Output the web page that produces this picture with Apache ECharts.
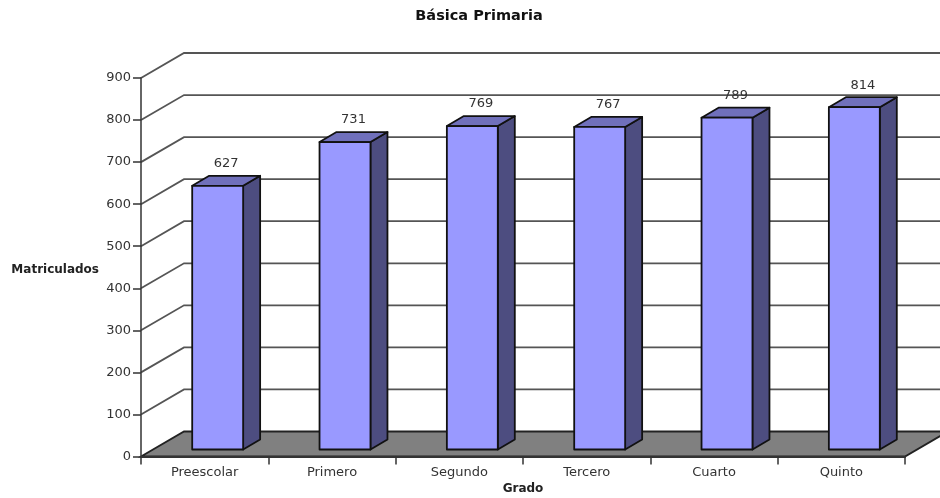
<!DOCTYPE html>
<html><head><meta charset="utf-8">
<style>html,body{margin:0;padding:0;background:#fff}#c{width:940px;height:498px}</style>
<script src="https://cdn.jsdelivr.net/npm/echarts@6/dist/echarts.min.js"></script>
</head><body><div id="c"></div>
<script>
const categories = ['Preescolar','Primero','Segundo','Tercero','Cuarto','Quinto'];
const matriculados = [627,731,769,767,789,814];
const gridTicks = [100,200,300,400,500,600,700,800,900];
const FONT = '"DejaVu Sans", Verdana, sans-serif';
const WALL = [43,-25];           // full 3-D depth of the floor
const BAR_OFF = [13,-7];         // bar front face offset from the axis plane
const BAR_DEPTH = [17,-10];      // bar depth

const chart = echarts.init(document.getElementById('c'), null, {renderer:'canvas'});
function wallItem(params, api){
  const v = api.value(0);
  const a = api.coord([0,v]), b = api.coord([categories.length-1,v]);
  const half = api.size([1,0])[0]/2;
  const x0 = a[0]-half, x1 = b[0]+half, y = a[1];
  return {type:'polyline',shape:{points:[[x0,y],[x0+WALL[0],y+WALL[1]],[x1+WALL[0],y+WALL[1]]]},
    style:{stroke:'#555',lineWidth:1.8,fill:null}};
}
function floorItem(params, api){
  const a = api.coord([0,0]), b = api.coord([categories.length-1,0]);
  const half = api.size([1,0])[0]/2;
  const x0=a[0]-half, x1=b[0]+half, y=a[1];
  return {type:'polygon',shape:{points:[[x0,y],[x0+WALL[0],y+WALL[1]],[x1+WALL[0],y+WALL[1]],[x1,y]]},
    style:{fill:'#808080',stroke:'#222',lineWidth:1.8}};
}
function barItem(params, api){
  const i = api.value(0), v = api.value(1);
  const top = api.coord([i,v]), base = api.coord([i,0]);
  const w = api.size([1,0])[0]*0.4;
  const xl = top[0]-w/2+BAR_OFF[0], xr = xl+w;
  const yt = top[1]+BAR_OFF[1], yb = base[1]+BAR_OFF[1];
  const dx = BAR_DEPTH[0], dy = BAR_DEPTH[1];
  const st = {stroke:'#111',lineWidth:1.8,lineJoin:'round'};
  return {type:'group',children:[
    {type:'polygon',shape:{points:[[xr,yt],[xr+dx,yt+dy],[xr+dx,yb+dy],[xr,yb]]},style:Object.assign({fill:'#4d4d80'},st)},
    {type:'polygon',shape:{points:[[xl,yt],[xl+dx,yt+dy],[xr+dx,yt+dy],[xr,yt]]},style:Object.assign({fill:'#7070bb'},st)},
    {type:'rect',shape:{x:xl,y:yt,width:w,height:yb-yt},style:Object.assign({fill:'#9999ff'},st)},
    {type:'text',style:{text:String(v),x:top[0]+BAR_OFF[0]+dx/2,y:yt+dy-12,align:'center',verticalAlign:'middle',
      fill:'#333',font:'13px '+FONT}}
  ]};
}
chart.setOption({
  animation:false,
  title:{text:'Básica Primaria',left:474,top:4,textAlign:'center',
    textStyle:{fontFamily:FONT,fontSize:14.5,fontWeight:'bold',color:'#111'}},
  grid:{left:141,right:35,top:78,bottom:41.5,outerBoundsMode:'none'},
  xAxis:{type:'category',data:categories,z:3,
    name:'Grado',nameLocation:'middle',nameGap:32,nameMoveOverlap:false,
    nameTextStyle:{fontFamily:FONT,fontSize:12,fontWeight:'bold',color:'#222',verticalAlign:'middle',padding:0},
    axisLine:{lineStyle:{color:'#333',width:2}},
    axisTick:{show:true,length:8,alignWithLabel:false,lineStyle:{color:'#333',width:1.5}},
    axisLabel:{fontFamily:FONT,fontSize:13,color:'#333',margin:10}},
  yAxis:{type:'value',min:0,max:900,interval:100,z:3,
    name:'Matriculados',nameLocation:'middle',nameRotate:0,nameGap:42,nameMoveOverlap:false,
    nameTextStyle:{fontFamily:FONT,fontSize:12,fontWeight:'bold',color:'#222',verticalAlign:'top',lineHeight:6},
    splitLine:{show:false},
    axisLine:{show:true,lineStyle:{color:'#333',width:1.5}},
    axisTick:{show:true,length:8,lineStyle:{color:'#333',width:1.5}},
    axisLabel:{fontFamily:FONT,fontSize:13,color:'#333',margin:10}},
  series:[
    {type:'custom',z:1,silent:true,renderItem:floorItem,data:[[0]],encode:{y:0}},
    {type:'custom',z:1,silent:true,renderItem:wallItem,data:gridTicks.map(t=>[t]),encode:{y:0}},
    {type:'custom',z:2,silent:true,renderItem:barItem,data:matriculados.map((v,i)=>[i,v]),encode:{x:0,y:1}}
  ]
});
</script></body></html>
